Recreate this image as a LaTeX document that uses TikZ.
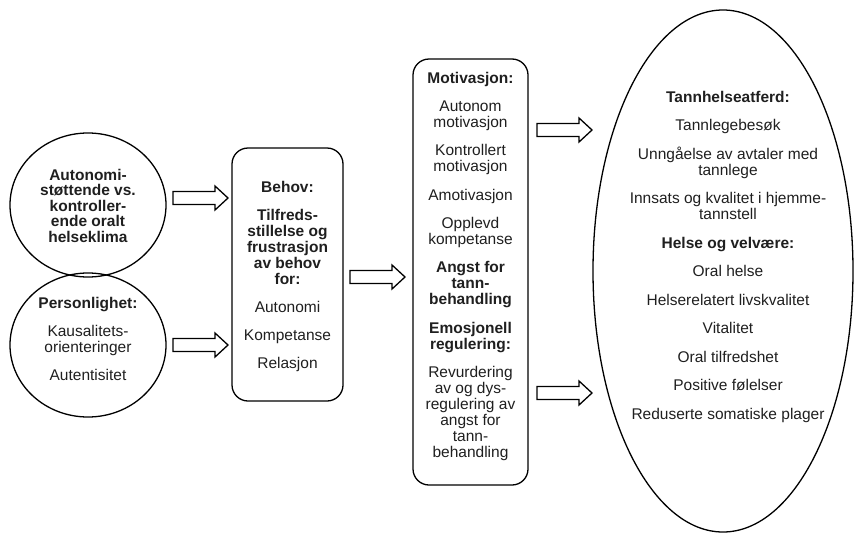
\documentclass[tikz,border=0pt]{standalone}
\usepackage{fontspec}
\setmainfont{Liberation Sans}
\usetikzlibrary{shapes.geometric}
\begin{document}
\begin{tikzpicture}[x=1pt,y=-1pt,
  outline/.style={draw=black,line width=1.3pt},
  roundbox/.style={outline,rounded corners=16pt,inner sep=0pt},
  oval/.style={outline,ellipse,inner sep=0pt},
  txt/.style={align=center,inner sep=0pt,anchor=north,
    font=\fontsize{15.5}{16}\selectfont,text=black!88},
  pics/blockarrow/.style={code={
    \draw[line width=1.3pt,line join=miter]
      (0,-6.5) -- (42,-6.5) -- (42,-12) -- (55,0) -- (42,12) -- (42,6.5) -- (0,6.5) -- cycle;
  }}
]
\useasboundingbox (0,0) rectangle (854,533);

% shapes
\node[oval,minimum width=156pt,minimum height=144pt] (climate) at (88,205) {};
\node[oval,minimum width=156pt,minimum height=144pt] (person) at (88,345) {};
\node[roundbox,minimum width=111pt,minimum height=253pt] (needs) at (287.5,274.5) {};
\node[roundbox,minimum width=115pt,minimum height=426pt] (motiv) at (470.5,272) {};
\node[oval,minimum width=260pt,minimum height=522pt] (outcome) at (723,271) {};

% block arrows
\pic at (173,198) {blockarrow};
\pic at (173,345) {blockarrow};
\pic at (350,277) {blockarrow};
\pic at (537,130) {blockarrow};
\pic at (537,393) {blockarrow};

% texts
\node[txt,font=\fontsize{15.5}{15.5}\selectfont] (climate-text) at (88,169) {\textbf{Autonomi-}\\\textbf{støttende vs.}\\\textbf{kontroller-}\\\textbf{ende oralt}\\\textbf{helseklima}};

\node[txt] (person-text) at (88,297) {\textbf{Personlighet:}\\[12pt]Kausalitets-\\orienteringer\\[12pt]Autentisitet};

\node[txt] (needs-text) at (287.5,181) {\textbf{Behov:}\\[12pt]\textbf{Tilfreds-}\\\textbf{stillelse og}\\\textbf{frustrasjon}\\\textbf{av behov}\\\textbf{for:}\\[12.5pt]Autonomi\\[12pt]Kompetanse\\[12pt]Relasjon};

\node[txt] (motiv-text) at (470.5,72) {\textbf{Motivasjon:}\\[12pt]Autonom\\motivasjon\\[12.5pt]Kontrollert\\motivasjon\\[12.5pt]Amotivasjon\\[12pt]Opplevd\\kompetanse\\[12.5pt]\textbf{Angst for}\\\textbf{tann-}\\\textbf{behandling}\\[12.5pt]\textbf{Emosjonell}\\\textbf{regulering:}\\[12.5pt]Revurdering\\av og dys-\\regulering av\\angst for\\tann-\\behandling};

\node[txt] (outcome-text) at (728,91) {\textbf{Tannhelseatferd:}\\[12.5pt]Tannlegebesøk\\[12.5pt]Unngåelse av avtaler med\\tannlege\\[12.5pt]Innsats og kvalitet i hjemme-\\tannstell\\[12.5pt]\textbf{Helse og velvære:}\\[12.5pt]Oral helse\\[12.5pt]Helserelatert livskvalitet\\[12.5pt]Vitalitet\\[12.5pt]Oral tilfredshet\\[12.5pt]Positive følelser\\[12.5pt]Reduserte somatiske plager};
\end{tikzpicture}
\end{document}
